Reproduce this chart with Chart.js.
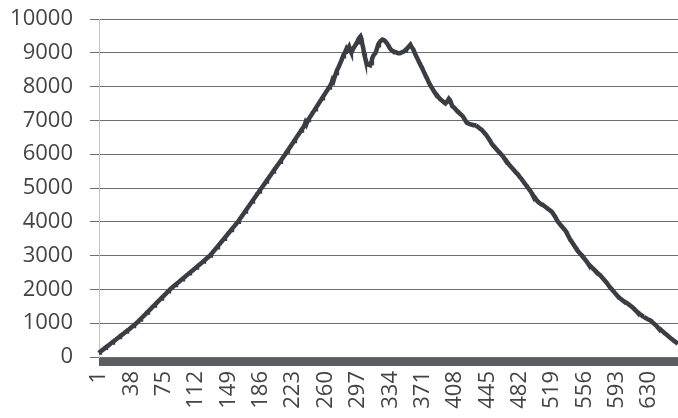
<!DOCTYPE html>
<html>
<head>
<meta charset="utf-8">
<script src="https://cdn.jsdelivr.net/npm/chart.js@4.4.1/dist/chart.umd.min.js"></script>
<style>
  html, body { margin: 0; padding: 0; background: #fff; }
  canvas { display: block; }
</style>
</head>
<body>
<canvas id="myChart" width="678" height="418"></canvas>
<script>
// x categories are just the sample numbers 1..663
const categories = Array.from({ length: 663 }, (_, i) => String(i + 1))
const labelStep = 37
const yTicks = { min: 0, max: 10000, step: 1000 }

// values, rows of 10
const values = [
  130, 150, 165, 190, 205, 228, 245, 270, 285, 310,
  330, 345, 372, 390, 405, 430, 450, 468, 492, 510,
  530, 552, 570, 590, 612, 628, 650, 672, 690, 708,
  730, 752, 770, 795, 812, 830, 858, 875, 898, 920,
  940, 962, 985, 1005, 1030, 1058, 1082, 1110, 1135, 1160,
  1188, 1212, 1240, 1262, 1290, 1318, 1342, 1368, 1395, 1420,
  1448, 1472, 1500, 1525, 1550, 1578, 1602, 1630, 1655, 1680,
  1708, 1732, 1760, 1785, 1810, 1838, 1862, 1890, 1915, 1945,
  1970, 1995, 2018, 2040, 2062, 2085, 2105, 2128, 2150, 2170,
  2192, 2215, 2235, 2258, 2280, 2300, 2322, 2345, 2365, 2388,
  2410, 2430, 2452, 2475, 2495, 2518, 2540, 2560, 2582, 2605,
  2625, 2648, 2670, 2690, 2712, 2735, 2755, 2778, 2800, 2822,
  2845, 2868, 2890, 2912, 2935, 2958, 2980, 3005, 3035, 3065,
  3095, 3128, 3158, 3190, 3220, 3250, 3282, 3315, 3345, 3375,
  3408, 3440, 3470, 3500, 3535, 3565, 3595, 3628, 3660, 3690,
  3722, 3755, 3785, 3820, 3850, 3880, 3912, 3945, 3975, 4005,
  4042, 4080, 4118, 4155, 4190, 4230, 4265, 4302, 4340, 4378,
  4415, 4452, 4490, 4528, 4562, 4600, 4640, 4675, 4712, 4750,
  4788, 4825, 4860, 4898, 4935, 4972, 5005, 5042, 5080, 5115,
  5150, 5190, 5228, 5262, 5300, 5338, 5372, 5410, 5448, 5485,
  5520, 5558, 5595, 5632, 5668, 5705, 5742, 5780, 5815, 5852,
  5890, 5928, 5962, 6000, 6040, 6078, 6115, 6155, 6195, 6232,
  6270, 6310, 6348, 6388, 6425, 6465, 6505, 6545, 6580, 6620,
  6658, 6698, 6735, 6775, 6815, 6860, 6935, 6885, 6955, 7010,
  7050, 7090, 7130, 7168, 7210, 7250, 7290, 7330, 7372, 7410,
  7450, 7492, 7532, 7570, 7612, 7652, 7692, 7735, 7775, 7815,
  7855, 7895, 7935, 7975, 8010, 8060, 8120, 8200, 8160, 8250,
  8330, 8400, 8480, 8530, 8580, 8640, 8700, 8760, 8830, 8900,
  8960, 8990, 9060, 9120, 9080, 9130, 9180, 9100, 9040, 9030,
  9080, 9140, 9180, 9220, 9260, 9310, 9370, 9420, 9460, 9490,
  9420, 9270, 9150, 8990, 8880, 8780, 8700, 8680, 8650, 8640,
  8630, 8700, 8800, 8880, 8930, 8960, 8990, 9060, 9140, 9220,
  9280, 9320, 9350, 9370, 9390, 9380, 9370, 9350, 9320, 9290,
  9250, 9210, 9160, 9120, 9090, 9070, 9050, 9040, 9030, 9020,
  9010, 9000, 8990, 8990, 8990, 9000, 9010, 9020, 9030, 9050,
  9070, 9100, 9120, 9150, 9180, 9210, 9240, 9190, 9150, 9120,
  9060, 9000, 8940, 8880, 8830, 8780, 8720, 8670, 8620, 8580,
  8520, 8460, 8400, 8350, 8290, 8240, 8190, 8130, 8080, 8030,
  7990, 7950, 7900, 7860, 7820, 7790, 7760, 7720, 7690, 7660,
  7630, 7610, 7590, 7570, 7540, 7520, 7500, 7530, 7560, 7600,
  7640, 7610, 7560, 7480, 7420, 7400, 7380, 7350, 7320, 7290,
  7270, 7250, 7220, 7190, 7170, 7150, 7120, 7080, 7040, 6990,
  6950, 6920, 6910, 6900, 6890, 6880, 6870, 6870, 6860, 6860,
  6860, 6850, 6830, 6810, 6790, 6770, 6750, 6730, 6710, 6680,
  6650, 6620, 6590, 6560, 6520, 6480, 6440, 6400, 6360, 6310,
  6280, 6250, 6220, 6190, 6160, 6130, 6100, 6070, 6050, 6020,
  5990, 5960, 5930, 5890, 5860, 5830, 5790, 5760, 5720, 5690,
  5660, 5630, 5600, 5570, 5540, 5510, 5480, 5450, 5430, 5400,
  5370, 5330, 5300, 5270, 5230, 5200, 5160, 5130, 5090, 5060,
  5020, 4990, 4950, 4920, 4880, 4830, 4800, 4760, 4730, 4690,
  4650, 4620, 4590, 4570, 4550, 4530, 4520, 4510, 4490, 4470,
  4450, 4430, 4410, 4390, 4370, 4350, 4330, 4310, 4290, 4250,
  4210, 4170, 4130, 4080, 4030, 3990, 3960, 3930, 3900, 3870,
  3840, 3810, 3780, 3750, 3710, 3660, 3610, 3560, 3510, 3470,
  3430, 3390, 3350, 3310, 3270, 3240, 3200, 3160, 3120, 3090,
  3060, 3030, 3010, 2980, 2950, 2910, 2880, 2840, 2810, 2770,
  2740, 2710, 2690, 2660, 2640, 2610, 2590, 2560, 2540, 2510,
  2490, 2460, 2440, 2420, 2390, 2360, 2330, 2300, 2270, 2240,
  2210, 2180, 2140, 2110, 2070, 2040, 2010, 1980, 1950, 1920,
  1890, 1860, 1830, 1800, 1780, 1750, 1730, 1710, 1690, 1670,
  1650, 1640, 1620, 1600, 1590, 1570, 1550, 1530, 1510, 1490,
  1470, 1440, 1420, 1390, 1370, 1340, 1320, 1300, 1280, 1260,
  1240, 1220, 1200, 1190, 1170, 1150, 1140, 1120, 1110, 1100,
  1090, 1070, 1050, 1020, 1000, 980, 950, 930, 900, 870,
  850, 840, 820, 790, 770, 750, 720, 700, 680, 660,
  640, 610, 590, 570, 550, 530, 510, 490, 470, 450,
  430, 410, 390
]

const font = { family: '"Open Sans", "DejaVu Sans", sans-serif', size: 22 }

const data = {
    labels: categories,
    datasets: [
        {
            data: values,
            borderColor: '#3a3e44',
            borderWidth: 4.5,
            pointRadius: 0,
            tension: 0,
            fill: false
        }
    ]
}

const config = {
    type: 'line',
    data: data,
    options: {
        responsive: false,
        animation: false,
        layout: { padding: { top: 19, right: 0, left: 0, bottom: 0 } },
        plugins: {
            legend: { display: false },
            tooltip: { enabled: false }
        },
        scales: {
            x: {
                offset: false,
                grid: {
                    drawOnChartArea: false,
                    color: '#5a5d62',
                    lineWidth: 1,
                    tickLength: 9
                },
                border: { display: false },
                ticks: {
                    autoSkip: false,
                    minRotation: 90,
                    maxRotation: 90,
                    padding: 5,
                    color: '#444',
                    font: font,
                    callback: (val, index) => index % labelStep === 0 ? categories[index] : ''
                },
                afterFit: (scale) => {
                    scale.height = 61
                    scale.paddingLeft = 0
                    scale.paddingRight = 0
                }
            },
            y: {
                min: yTicks.min,
                max: yTicks.max,
                grid: {
                    color: '#6e6e6e',
                    lineWidth: 1,
                    tickLength: 9
                },
                border: { color: '#c4c4c4' },
                ticks: {
                    stepSize: yTicks.step,
                    padding: 17,
                    color: '#444',
                    font: font,
                    callback: (v) => String(v)
                },
                afterFit: (scale) => {
                    scale.width = 99
                    scale.paddingTop = 0
                    scale.paddingBottom = 0
                }
            }
        }
    }
}

const myChart = new Chart(document.getElementById('myChart'), config)
</script>
</body>
</html>
